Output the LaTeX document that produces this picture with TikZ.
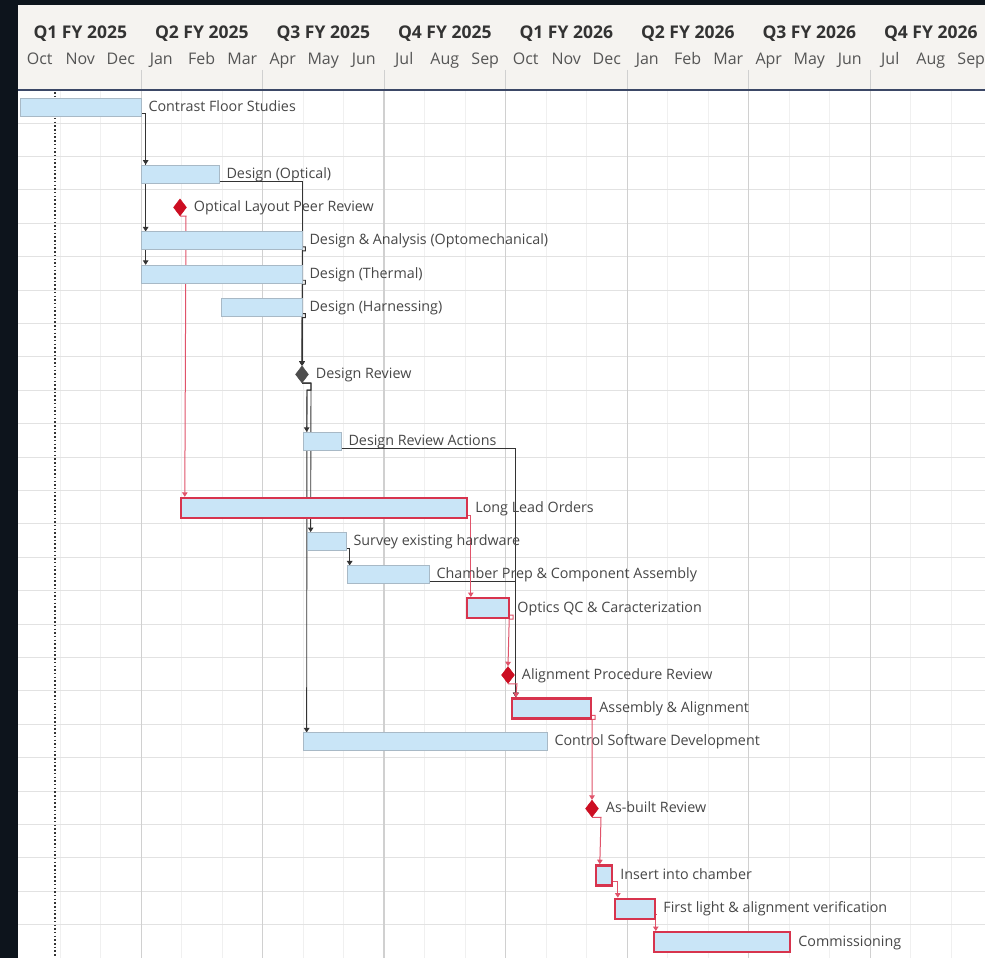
\documentclass[tikz,border=0pt]{standalone}
\usepackage{fontspec}
\setmainfont{Open Sans}
\usetikzlibrary{arrows.meta,shapes.geometric,calc}
\definecolor{bgdark}{HTML}{0D141C}
\definecolor{headerbg}{HTML}{F5F3F0}
\definecolor{navy}{HTML}{3B4766}
\definecolor{rowline}{HTML}{E2E2E2}
\definecolor{monthline}{HTML}{F0F0F0}
\definecolor{qline}{HTML}{D0D0D0}
\definecolor{barfill}{HTML}{C9E5F7}
\definecolor{barline}{HTML}{A8B9C6}
\definecolor{crit}{HTML}{D7344E}
\definecolor{rconncol}{HTML}{E0536A}
\definecolor{conncol}{HTML}{333333}
\definecolor{msred}{HTML}{CC0E22}
\definecolor{msgray}{HTML}{4D4D4D}
\definecolor{lbltext}{HTML}{474747}
\definecolor{qtext}{HTML}{333333}
\definecolor{mtext}{HTML}{555555}
\pgfdeclarelayer{gridlayer}
\pgfdeclarelayer{links}
\pgfsetlayers{gridlayer,links,main}
\newcommand\gtask[6]{%
  \pgfmathsetmacro\gy{106.2+33.4*(#4-1)+1}%
  \pgfmathsetmacro\gx{(#2+#3)/2}%
  \pgfmathsetmacro\gw{#3-#2}%
  \node[#6,minimum width=\gw pt] (#1) at (\gx,\gy) {};%
  \node[lbl] (#1-l) at ($(#1.east)+(7,4)$) {#5};%
}
\newcommand\gmile[5]{%
  \pgfmathsetmacro\gy{106.2+33.4*(#3-1)+1}%
  \node[#5] (#1) at (#2,\gy) {};%
  \node[lbl] (#1-l) at ($(#1.east)+(7,4)$) {#4};%
}
\begin{document}
\begin{tikzpicture}[x=1pt,y=-1pt,
  bar/.style={rectangle,draw=barline,fill=barfill,line width=0.7pt,minimum height=18pt,inner sep=0pt},
  critbar/.style={rectangle,draw=crit,fill=barfill,line width=2.4pt,minimum height=20pt,inner sep=0pt},
  lbl/.style={anchor=base west,inner sep=0pt,font=\fontsize{14.3}{16}\selectfont,text=lbltext},
  qlbl/.style={anchor=base,inner sep=0pt,font=\fontsize{17.5}{19}\selectfont\bfseries,text=qtext},
  mlbl/.style={anchor=base,inner sep=0pt,font=\fontsize{16}{18}\selectfont,text=mtext},
  ms/.style={diamond,minimum width=13pt,minimum height=17pt,inner sep=0pt,fill=msred,draw=msred,line width=0.5pt},
  msdark/.style={ms,fill=msgray,draw=msgray},
  conn/.style={draw=conncol,line width=0.9pt,-{Triangle[length=4.5pt,width=5.5pt]}},
  rconn/.style={conn,draw=rconncol,line width=1pt},
  monthgrid/.style={draw=monthline,line width=0.6pt},
  quartergrid/.style={draw=qline,line width=0.9pt},
  rowgrid/.style={draw=rowline,line width=0.8pt},
]
\useasboundingbox (0,0) rectangle (985,958);
\clip (0,0) rectangle (985,958);
\begin{pgfonlayer}{gridlayer}
  \fill[bgdark] (0,0) rectangle (985,958);
  \fill[headerbg] (18,5) rectangle (990,90);
  \fill[white] (18,90) rectangle (990,960);
  \foreach \k in {1,...,23} \draw[monthgrid] ({19.5+40.5*\k},91) -- ({19.5+40.5*\k},958);
  \foreach \r in {1,...,26} \draw[rowgrid] (18,{89.5+33.4*\r}) -- (990,{89.5+33.4*\r});
  \foreach \k in {3,6,...,21} \draw[quartergrid] ({19.5+40.5*\k},70) -- ({19.5+40.5*\k},958);
  \draw[draw=qline,line width=2pt] (383.5,91) -- (383.5,958);
  \draw[navy,line width=1.8pt] (18,90) -- (990,90);
  \draw[conncol,line width=1.1pt,dash pattern=on 1.5pt off 2.2pt] (55,92) -- (55,958);
  \foreach \q/\t in {0/Q1 FY 2025,1/Q2 FY 2025,2/Q3 FY 2025,3/Q4 FY 2025,4/Q1 FY 2026,5/Q2 FY 2026,6/Q3 FY 2026,7/Q4 FY 2026}
    \node[qlbl] (q\q) at ({19.5+121.5*(\q+0.5)},38.5) {\t};
  \foreach \k/\m in {0/Oct,1/Nov,2/Dec,3/Jan,4/Feb,5/Mar,6/Apr,7/May,8/Jun,9/Jul,10/Aug,11/Sep,12/Oct,13/Nov,14/Dec,15/Jan,16/Feb,17/Mar,18/Apr,19/May,20/Jun,21/Jul,22/Aug,23/Sep}
    \node[mlbl] (m\k) at ({19.5+40.5*(\k+0.5)},64) {\m};
\end{pgfonlayer}

\gtask{cfs}{20}{141}{1}{Contrast Floor Studies}{bar}
\gtask{dopt}{141}{219}{3}{Design (Optical)}{bar}
\gmile{olpr}{180}{4}{Optical Layout Peer Review}{ms}
\gtask{da}{141}{302}{5}{Design \& Analysis (Optomechanical)}{bar}
\gtask{dth}{141}{302}{6}{Design (Thermal)}{bar}
\gtask{dh}{221}{302}{7}{Design (Harnessing)}{bar}
\gmile{dr}{302}{9}{Design Review}{msdark}
\gtask{dra}{303}{341}{11}{Design Review Actions}{bar}
\gtask{llo}{181}{467}{13}{Long Lead Orders}{critbar}
\gtask{seh}{307}{346}{14}{Survey existing hardware}{bar}
\gtask{cp}{347}{429}{15}{Chamber Prep \& Component Assembly}{bar}
\gtask{oqc}{467}{509}{16}{Optics QC \& Caracterization}{critbar}
\gmile{apr}{508}{18}{Alignment Procedure Review}{ms}
\gtask{aa}{512}{591}{19}{Assembly \& Alignment}{critbar}
\gtask{csd}{303}{547}{20}{Control Software Development}{bar}
\gmile{abr}{592}{22}{As-built Review}{ms}
\gtask{ins}{596}{612}{24}{Insert into chamber}{critbar}
\gtask{fl}{615}{655}{25}{First light \& alignment verification}{critbar}
\gtask{com}{654}{790}{26}{Commissioning}{critbar}

\begin{pgfonlayer}{links}
  \draw[conn] ($(cfs.east)+(0,6)$) -| ($(dopt.north west)+(5,0)$);
  \draw[conn] ($(cfs.east)+(0,6)$) -| ($(da.north west)+(5,0)$);
  \draw[conn] ($(cfs.east)+(0,6)$) -| ($(dth.north west)+(5,0)$);
  \draw[conn] ($(dopt.east)+(0,7)$) -| (dr.north);
  \foreach \n in {da,dth,dh}
    \draw[conn] ($(\n.east)+(0,6)$) -- ++(3,0) -- ++(0,4) -- ++(-3,0) -- (dr.north);
  \draw[conn] (dr.south) -- ++(9,0) -- ++(0,7) -- ++(-4,0) -- ($(dra.north west)+(4,0)$);
  \draw[conn] (dr.south) -- ++(9,0) -- ($(seh.north west)+(4,0)$);
  \draw[conn] (dr.south) -- ++(9,0) -- ++(0,7) -- ++(-4,0) -- ($(csd.north west)+(4,0)$);
  \draw[conn] ($(dra.east)+(0,7)$) -| ($(aa.north west)+(5,0)$);
  \draw[conn] ($(seh.east)+(0,7)$) -| ($(cp.north west)+(3,0)$);
  \draw[conn] ($(cp.east)+(0,7)$) -| ($(aa.north west)+(5,0)$);
  \draw[rconn] (olpr.south) -- ++(6,0) -- ($(llo.north west)+(5,0)$);
  \draw[rconn] ($(llo.east)+(0,7)$) -| ($(oqc.north west)+(5,0)$);
  \draw[rconn] ($(oqc.east)+(0,7)$) -- ++(3,0) -- ++(0,4) -- ++(-4,0) -- (apr.north);
  \draw[rconn] (apr.south) -- ++(9,0) -- ($(aa.north west)+(5,0)$);
  \draw[rconn] ($(aa.east)+(0,7)$) -- ++(3,0) -- ++(0,4) -- ++(-3,0) -- (abr.north);
  \draw[rconn] (abr.south) -- ++(9,0) -- ($(ins.north west)+(5,0)$);
  \draw[rconn] ($(ins.east)+(0,6)$) -| ($(fl.north west)+(4,0)$);
  \draw[rconn] ($(fl.east)+(0,6)$) -| ($(com.north west)+(3,0)$);
\end{pgfonlayer}
\end{tikzpicture}
\end{document}
